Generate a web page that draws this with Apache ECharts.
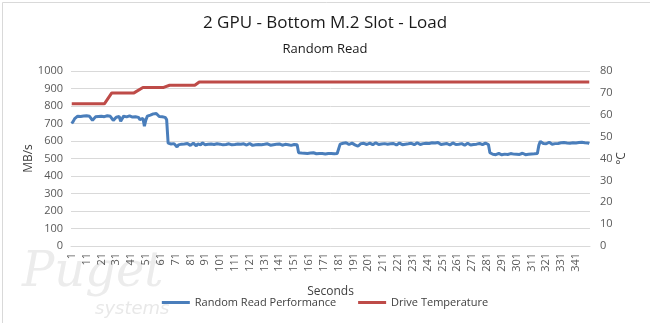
<!DOCTYPE html>
<html>
<head>
<meta charset="utf-8">
<script src="https://cdn.jsdelivr.net/npm/echarts@6/dist/echarts.min.js"></script>
<style>
html,body{margin:0;padding:0;background:#fff;}
#c{width:650px;height:323px;}
</style>
</head>
<body>
<div id="c"></div>
<script>
// ---- data ----
const titleText = '2 GPU - Bottom M.2 Slot - Load';
const subtitleText = 'Random Read';
const seriesNames = ['Random Read Performance', 'Drive Temperature'];
const leftTicks = [0, 1000, 100];
const rightTicks = [0, 80, 10];

// Random Read Performance (MB/s), seconds 1..350, in segments
const perfA = [ // s1-65
  700, 712, 728, 738, 742, 745, 740, 746, 743, 738,
  744, 748, 741, 732, 718, 724, 738, 745, 740, 736,
  742, 747, 739, 733, 744, 748, 741, 730, 718, 722,
  736, 745, 740, 712, 728, 742, 746, 738, 731, 744,
  748, 737, 726, 739, 745, 735, 722, 715, 730, 685,
  720, 742, 752, 748, 758, 755, 750, 757, 746, 740,
  744, 738, 742, 735, 722];
const perfB = [ // s66-153
  588, 580, 583, 575, 585,
  580, 566, 578, 585, 582, 577, 583, 579, 586, 581,
  575, 583, 588, 580, 572, 584, 582, 578, 590, 583,
  579, 585, 581, 576, 583, 587, 580, 578, 584, 579,
  582, 586, 578, 583, 580, 575, 584, 581, 578, 585,
  580, 576, 583, 588, 581, 579, 584, 580, 577, 583,
  586, 580, 575, 582, 578, 584, 580, 583, 579, 585,
  581, 577, 584, 580, 576, 582, 579, 585, 581, 578,
  583, 580, 576, 584, 581, 587, 579, 583, 575, 586,
  580, 583, 578];
const perfC = [ // s154-181
  533, 528, 531, 527, 530, 532, 529, 526, 531, 528,
  533, 530, 527, 531, 529, 532, 528, 530, 526, 531,
  529, 533, 528, 530, 527, 531, 529, 532];
const perfD = [ // s182-282
  582, 592, 587, 596, 590, 584, 580, 576, 588, 583,
  578, 572, 570, 580, 585, 582, 587, 583, 580, 586,
  588, 583, 579, 585, 590, 584, 580, 587, 583, 578,
  585, 589, 582, 578, 584, 590, 586, 581, 577, 585,
  588, 583, 579, 586, 582, 588, 584, 580, 587, 583,
  579, 586, 590, 584, 580, 588, 585, 581, 587, 592,
  586, 596, 590, 600, 588, 584, 591, 586, 580, 588,
  583, 579, 586, 582, 577, 585, 589, 583, 580, 586,
  582, 578, 585, 581, 576, 583, 587, 580, 577, 584,
  580, 585, 582, 578, 586, 583, 579, 585, 588, 582,
  580];
const perfE = [ // s283-315
  533, 527, 524, 528, 522, 526, 529, 524, 521, 527,
  525, 530, 523, 526, 528, 522, 525, 529, 524, 527,
  523, 526, 530, 525, 522, 527, 524, 528, 526, 523,
  527, 525, 529];
const perfF = [ // s316-350
  575, 598, 592, 586, 590, 584, 588, 593, 587, 582,
  589, 585, 591, 586, 583, 590, 587, 592, 585, 589,
  594, 587, 583, 590, 596, 588, 584, 591, 587, 593,
  586, 590, 584, 589, 585];

// Drive Temperature (°C) breakpoints: second -> value
const tempSeconds = [1, 23, 28, 43, 49, 63, 67, 84, 87, 350];
const tempValues  = [65, 65, 70, 70, 72.5, 72.5, 73.5, 73.5, 75, 75];

// ---- build ----
const perf = [].concat(perfA, perfB, perfC, perfD, perfE, perfF);
const categories = perf.map((_, i) => String(i + 1));
const tempData = tempSeconds.map((s, i) => [String(s), tempValues[i]]);

const FONT = "'Open Sans', 'Noto Sans', sans-serif";
const chart = echarts.init(document.getElementById('c'), null, {renderer: 'canvas'});
chart.setOption({
  animation: false,
  backgroundColor: '#ffffff',
  textStyle: {fontFamily: FONT},
  title: [
    {text: titleText, left: 'center', top: 10,
     textStyle: {fontSize: 17, fontWeight: 'normal', color: '#1a1a1a', fontFamily: FONT}},
    {text: subtitleText, left: 'center', top: 38,
     textStyle: {fontSize: 13, fontWeight: 'normal', color: '#1a1a1a', fontFamily: FONT}}
  ],
  graphic: [
    {type: 'rect', left: 0, top: 0, shape: {x: 0.5, y: 0.5, width: 649, height: 322},
     style: {fill: 'none', stroke: '#d9d9d9', lineWidth: 1}, silent: true, z: -1},
    {type: 'text', left: 22, top: 250, silent: true, z: -1,
     style: {text: 'Puget', font: 'italic 48px "DejaVu Serif", serif', fill: '#ececec'}},
    {type: 'text', left: 95, top: 300, silent: true, z: -1,
     style: {text: 'systems', font: 'italic 18px "DejaVu Sans", sans-serif', fill: '#e8e8e8'}}
  ],
  legend: {
    bottom: 10, left: 'center',
    itemWidth: 28, itemHeight: 3, itemGap: 22, icon: 'rect',
    textStyle: {fontSize: 11, color: '#404040', fontFamily: FONT},
    data: seriesNames
  },
  grid: {left: 71, right: 60, top: 71, bottom: 77},
  xAxis: {
    type: 'category', data: categories, boundaryGap: true,
    name: 'Seconds', nameLocation: 'middle', nameGap: 40,
    nameTextStyle: {fontSize: 12, color: '#404040'},
    axisLine: {show: true, lineStyle: {color: '#d9d9d9'}},
    axisTick: {show: false},
    axisLabel: {interval: 9, rotate: 90, fontSize: 11, color: '#595959', margin: 7}
  },
  yAxis: [
    {type: 'value', min: leftTicks[0], max: leftTicks[1], interval: leftTicks[2],
     name: 'MB/s', nameLocation: 'middle', nameGap: 36, nameRotate: 90, nameMoveOverlap: false,
     nameTextStyle: {fontSize: 12, color: '#404040'},
     axisLine: {show: false}, axisTick: {show: false},
     axisLabel: {fontSize: 11, color: '#595959', margin: 8, formatter: v => String(v)},
     splitLine: {lineStyle: {color: '#d9d9d9'}}},
    {type: 'value', min: rightTicks[0], max: rightTicks[1], interval: rightTicks[2],
     position: 'right',
     name: '°C', nameLocation: 'middle', nameGap: 26, nameRotate: 90, nameMoveOverlap: false,
     nameTextStyle: {fontSize: 12, color: '#404040'},
     axisLine: {show: false}, axisTick: {show: false},
     axisLabel: {fontSize: 11, color: '#595959', margin: 10},
     splitLine: {show: false}}
  ],
  series: [
    {name: seriesNames[0], type: 'line', data: perf, yAxisIndex: 0,
     symbol: 'none', lineStyle: {width: 3, color: '#4a7ebb'}, itemStyle: {color: '#4a7ebb'}, z: 3},
    {name: seriesNames[1], type: 'line', data: tempData, yAxisIndex: 1,
     symbol: 'none', lineStyle: {width: 3, color: '#be4b48'}, itemStyle: {color: '#be4b48'}, z: 2}
  ]
});
</script>
</body>
</html>
